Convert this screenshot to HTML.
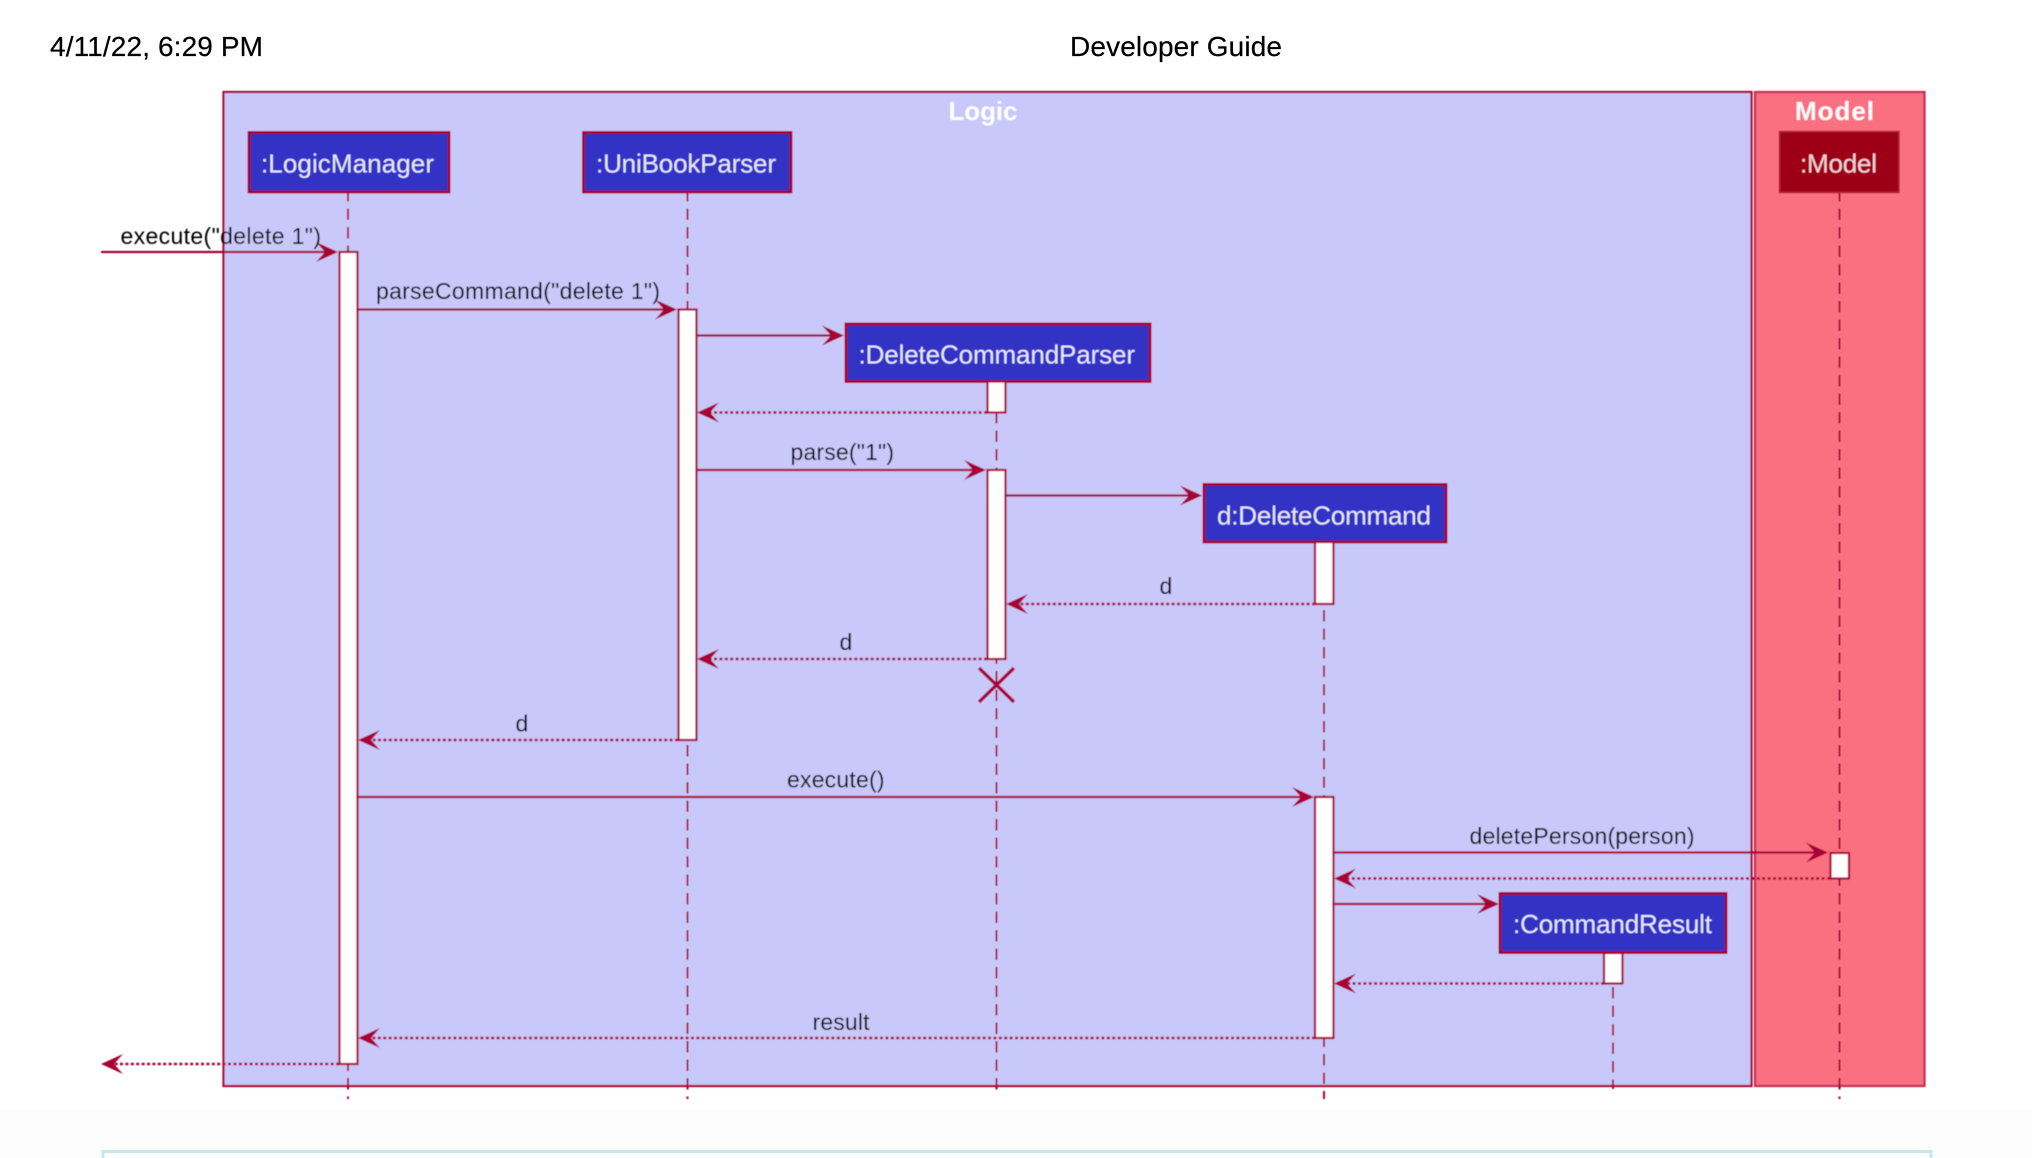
<!DOCTYPE html>
<html><head><meta charset="utf-8"><title>Developer Guide</title>
<style>html,body{margin:0;padding:0;background:#fff;width:2032px;height:1158px;overflow:hidden}svg{display:block}
text{font-family:"Liberation Sans",Arial,sans-serif}
.m{font-size:23px;fill:#000}.b{font-size:26px;fill:#e8e8ff}.t{font-size:26px;font-weight:bold;fill:#fff}.h{font-size:28px;fill:#000;stroke:#000;stroke-width:.2}
.ll{stroke:#A80036;stroke-width:2;stroke-dasharray:11.5 7;fill:none}
.s{stroke:#A80036;stroke-width:2.2;fill:none}.d{stroke:#A80036;stroke-width:2.4;stroke-dasharray:3 2.4;fill:none}
.box{fill:#3333C4;stroke:#A80036;stroke-width:3}.act{fill:#fff;stroke:#A80036;stroke-width:2.2}.ar{fill:#A80036}
</style></head><body>
<svg width="2032" height="1158" viewBox="0 0 2032 1158" xmlns="http://www.w3.org/2000/svg">
<defs><filter id="f" x="-2%" y="-2%" width="104%" height="104%"><feGaussianBlur stdDeviation="0.55"/></filter></defs>
<rect width="2032" height="1158" fill="#fff"/>
<rect x="0" y="1110" width="2032" height="48" fill="#fdfdfd"/>
<text class="h" x="50" y="56" textLength="213">4/11/22, 6:29 PM</text>
<text class="h" x="1070" y="56" textLength="212">Developer Guide</text>
<rect x="103" y="1151.5" width="1828" height="20" fill="#fff" stroke="#c5e8ec" stroke-width="3"/>
<g filter="url(#f)">
<rect x="223.5" y="92" width="1528" height="994" fill="#C8C8FA" stroke="#A80036" stroke-width="2.2"/>
<rect x="1755" y="92" width="169.5" height="994" fill="#FB6F80" stroke="#C32C55" stroke-width="2.2"/>
<text class="t" x="948.5" y="120" textLength="69">Logic</text>
<text class="t" x="1795" y="120" textLength="79">Model</text>

<path class="ll" d="M348 190V1099M687.5 190V1099M996.5 375V1091M1324 536V1099M1613 950V1089M1839.5 190V1099"/>

<rect class="box" x="249" y="132.5" width="200" height="59.5"/>
<text class="b" x="261" y="172.5" textLength="173">:LogicManager</text>
<rect class="box" x="583.5" y="132.5" width="207.5" height="59.5"/>
<text class="b" x="596" y="172.5" textLength="180">:UniBookParser</text>
<rect x="1779.5" y="131.5" width="119.5" height="61" fill="#9D0012" stroke="#B5203F" stroke-width="1.5"/>
<text class="b" x="1800" y="172.5" textLength="77" style="fill:#f3d6da">:Model</text>
<rect class="box" x="846" y="324" width="304" height="57.5"/>
<text class="b" x="858.5" y="363.5" textLength="276.5">:DeleteCommandParser</text>
<rect class="box" x="1204" y="484.5" width="242" height="57.5"/>
<text class="b" x="1217" y="524.5" textLength="214">d:DeleteCommand</text>
<rect class="box" x="1500" y="893.5" width="226" height="59"/>
<text class="b" x="1513" y="933" textLength="199">:CommandResult</text>

<rect class="act" x="339.5" y="252" width="18" height="812"/>
<rect class="act" x="678.5" y="309.5" width="18" height="430.5"/>
<rect class="act" x="987.5" y="381.5" width="18" height="31"/>
<rect class="act" x="987.5" y="470" width="18" height="189"/>
<rect class="act" x="1315" y="542" width="18.5" height="62"/>
<rect class="act" x="1315" y="797" width="18.5" height="241"/>
<rect class="act" x="1830.5" y="853" width="18.5" height="25.5"/>
<rect class="act" x="1604" y="953" width="18.5" height="30.5"/>

<path class="s" d="M101 252H325M358 309.5H665M697 335.5H832M697 470H975M1006 495.5H1190M358 797H1302M1334 852.5H1815M1334 904H1487"/>
<path class="d" d="M987 412.5H705M987 659H705M1315 604H1014M678 740H366M1604 983.5H1342M1830 878.5H1342M1315 1038H366M339 1064H109"/>

<polygon class="ar" points="338,252 316,242 325,252 316,262"/>
<polygon class="ar" points="677,309.5 655,299.5 664,309.5 655,319.5"/>
<polygon class="ar" points="844,335.5 822,325.5 831,335.5 822,345.5"/>
<polygon class="ar" points="986,470 964,460 973,470 964,480"/>
<polygon class="ar" points="1202,495.5 1180,485.5 1189,495.5 1180,505.5"/>
<polygon class="ar" points="1314,797 1292,787 1301,797 1292,807"/>
<polygon class="ar" points="1828,852.5 1806,842.5 1815,852.5 1806,862.5"/>
<polygon class="ar" points="1499,904 1477,894 1486,904 1477,914"/>

<polygon class="ar" points="697,412.5 719,402.5 710,412.5 719,422.5"/>
<polygon class="ar" points="697,659 719,649 710,659 719,669"/>
<polygon class="ar" points="1006,604 1028,594 1019,604 1028,614"/>
<polygon class="ar" points="358,740 380,730 371,740 380,750"/>
<polygon class="ar" points="1334,983.5 1356,973.5 1347,983.5 1356,993.5"/>
<polygon class="ar" points="1334,878.5 1356,868.5 1347,878.5 1356,888.5"/>
<polygon class="ar" points="358,1038 380,1028 371,1038 380,1048"/>
<polygon class="ar" points="101,1064 123,1054 114,1064 123,1074"/>

<path d="M979 668L1014 702M1014 668L979 702" stroke="#A80036" stroke-width="3.4" fill="none"/>

<text class="m" x="120.5" y="244" textLength="200.5">execute("delete 1")</text>
<text class="m" x="376" y="299" textLength="284">parseCommand("delete 1")</text>
<text class="m" x="790.5" y="460" textLength="103.5">parse("1")</text>
<text class="m" x="1159.5" y="594">d</text>
<text class="m" x="839.5" y="650">d</text>
<text class="m" x="515.5" y="731.5">d</text>
<text class="m" x="787" y="787.5" textLength="97.5">execute()</text>
<text class="m" x="1469.5" y="844" textLength="225">deletePerson(person)</text>
<text class="m" x="812.5" y="1030" textLength="57">result</text>
</g>
</svg>
</body></html>
